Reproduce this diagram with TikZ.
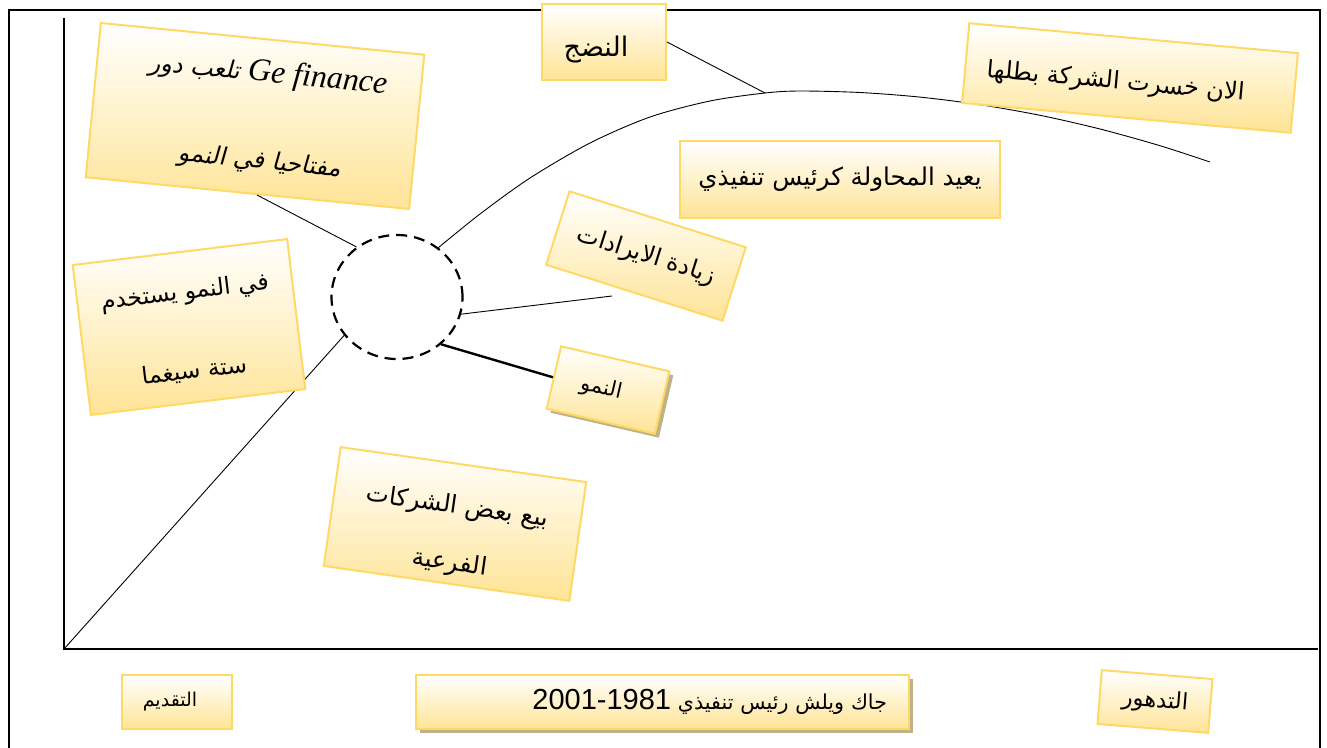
\documentclass[tikz,border=0pt]{standalone}
\usepackage{fontspec}
\setmainfont{Liberation Serif}
\newfontfamily\arabicfont[Script=Arabic]{DejaVu Sans}
\newfontfamily\arabicslant[Script=Arabic,FakeSlant=0.18]{DejaVu Sans}
\newfontfamily\digitfont{Liberation Sans}
\TeXXeTstate=1
\usetikzlibrary{shadows,shapes.geometric,calc}

\definecolor{noteedge}{RGB}{255,217,102}
\definecolor{notefill}{RGB}{255,228,150}
\definecolor{notetan}{RGB}{192,178,136}

\newcommand{\artext}[1]{{\arabicfont\beginR #1\endR}}
\newcommand{\fs}[1]{\fontsize{#1}{#1}\selectfont}

\tikzset{
  note/.style={draw=noteedge, line width=2pt, top color=white, bottom color=notefill,
    inner sep=0pt, align=center, font=\fs{24}},
  tanshadow/.style={drop shadow={shadow xshift=4pt, shadow yshift=-4pt, fill=notetan, opacity=1}},
  axis/.style={line width=2pt},
  link/.style={line width=0.9pt},
  hubring/.style={draw, ellipse, dash pattern=on 11pt off 7pt, line width=2.2pt,
    minimum width=131pt, minimum height=124pt, inner sep=0pt},
}

\begin{document}
\begin{tikzpicture}[x=1pt, y=-1pt]
\useasboundingbox (0,0) rectangle (1327,747);
\fill[white] (0,0) rectangle (1327,747);

% frame and axes
\draw[axis] (9,760) -- (9,10) -- (1320,10) -- (1320,760);
\coordinate (O) at (64,649);
\coordinate (ytop) at (64,18);
\coordinate (xend) at (1318,649);
\draw[axis] (ytop) -- (O) -- (xend);

% life-cycle curve and the growth hub
\node[hubring] (hub) at (397,297) {};
\coordinate (peakpt) at (765,93);
\coordinate (tail) at (1210,162);
\draw[link] (O) -- (hub.216);
\draw[link] plot[smooth] coordinates {(hub.50) (480,214) (530,178) (590,143) (650,117)
  (710,101) (peakpt) (800,91) (860,92.5) (920,97.1) (980,104.7) (1040,115.3) (1100,129)
  (1160,145.7) (tail)};

% notes
\node[note, rotate=-5.6, minimum width=325pt, minimum height=155pt] (ge) at (255,116)
  {\hspace*{18pt}\fs{32}\beginR\beginL{\itshape Ge finance}\endL\ {\arabicslant\fs{24}تلعب دور}\endR\\[61pt]
   \hspace*{18pt}{\arabicslant\fs{24}\beginR مفتاحيا في النمو\endR}};
\node[note, rotate=6.9, minimum width=216pt, minimum height=151pt, font=\fs{23.5}] (six) at (189,327)
  {\rule{0pt}{27pt}\artext{في النمو يستخدم}\\[55pt]\artext{ستة سيغما}};
\node[note, minimum width=124pt, minimum height=76pt, font=\fs{27}] (mat) at (604,42)
  {\rule{0pt}{36pt}\artext{النضج}\kern16pt};
\node[note, rotate=-5.2, minimum width=330pt, minimum height=80pt, font=\fs{24}] (lost) at (1130,78)
  {\rule{0pt}{30pt}\artext{الان خسرت الشركة بطلها}\kern28pt};
\node[note, minimum width=320pt, minimum height=77pt, font=\fs{24.5}] (retry) at (840,179.5)
  {\artext{يعيد المحاولة كرئيس تنفيذي}};
\node[note, rotate=-17.6, minimum width=185pt, minimum height=77pt, font=\fs{24}] (rev) at (646,256)
  {\artext{زيادة الايرادات}};
\node[note, tanshadow, rotate=-13, minimum width=111pt, minimum height=64pt, font=\fs{21}] (grow) at (608,390)
  {\artext{النمو}\kern14pt};
\node[note, rotate=-8.1, minimum width=248pt, minimum height=120pt, font=\fs{24.5}] (sell) at (455,524)
  {\rule{0pt}{42pt}\artext{بيع بعض الشركات}\\[31pt]\artext{الفرعية}};
\node[note, minimum width=110pt, minimum height=54pt, font=\fs{19}] (intro) at (177,702)
  {\artext{التقديم}\kern14pt};
\node[note, tanshadow, minimum width=493pt, minimum height=54pt, text width=449pt, align=right, font=\fs{20.6}] (jack) at (662.5,702)
  {\artext{جاك ويلش رئيس تنفيذي {\digitfont\fs{29}\beginL 2001-1981\endL}}};
\node[note, rotate=-4.6, minimum width=111pt, minimum height=54pt, font=\fs{22.5}] (decl) at (1155,701.5)
  {\artext{التدهور}};

% connectors
\coordinate (revfoot) at (612,296);
\draw[link] (hub.129) -- ($(ge.south west)!0.53!(ge.south east)$);
\draw[link] (hub.-15) -- (revfoot);
\draw[line width=2.4pt] (hub.-47) -- (grow.west);
\draw[link] (mat.east) -- (peakpt);
\end{tikzpicture}
\end{document}
